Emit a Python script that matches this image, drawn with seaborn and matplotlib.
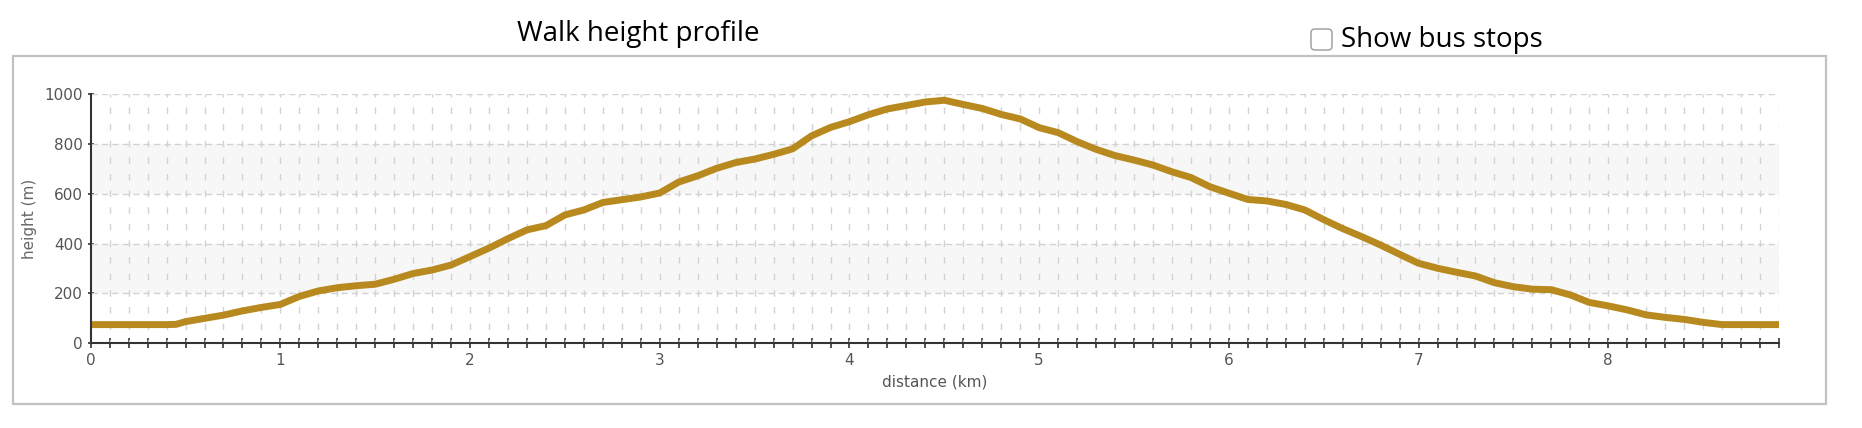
import seaborn as sns
import matplotlib.pyplot as plt
import pandas as pd
import numpy as np
from matplotlib.patches import Rectangle, FancyBboxPatch
from matplotlib.transforms import IdentityTransform

distance_km = [0.0, 0.1, 0.2, 0.3, 0.4, 0.45, 0.5, 0.6, 0.7, 0.8, 0.9,
               1.0, 1.1, 1.2, 1.3, 1.4, 1.5, 1.6, 1.7, 1.8, 1.9,
               2.0, 2.1, 2.2, 2.3, 2.4, 2.5, 2.6, 2.7, 2.8, 2.9,
               3.0, 3.1, 3.2, 3.3, 3.4, 3.5, 3.6, 3.7, 3.8, 3.9,
               4.0, 4.1, 4.2, 4.3, 4.4, 4.5, 4.6, 4.7, 4.8, 4.9,
               5.0, 5.1, 5.2, 5.3, 5.4, 5.5, 5.6, 5.7, 5.8, 5.9,
               6.0, 6.1, 6.2, 6.3, 6.4, 6.5, 6.6, 6.7, 6.8, 6.9,
               7.0, 7.1, 7.2, 7.3, 7.4, 7.5, 7.6, 7.7, 7.8, 7.9,
               8.0, 8.1, 8.2, 8.3, 8.4, 8.5, 8.6, 8.7, 8.8, 8.9]
height_m = [75, 75, 75, 75, 75, 76, 87, 100, 113, 130, 144,
            156, 188, 210, 223, 231, 237, 257, 280, 294, 314,
            348, 382, 420, 455, 472, 515, 535, 565, 576, 587,
            603, 647, 672, 702, 725, 739, 758, 780, 832, 866,
            889, 917, 940, 954, 968, 975, 958, 942, 918, 900,
            865, 845, 809, 778, 753, 735, 715, 688, 665, 628,
            602, 577, 571, 557, 535, 496, 460, 428, 394, 357,
            321, 301, 285, 270, 243, 227, 217, 215, 194, 164,
            150, 134, 114, 104, 96, 84, 75, 75, 75, 75]
x_labels = [0, 1, 2, 3, 4, 5, 6, 7, 8]
y_labels = [0, 200, 400, 600, 800, 1000]
bands = [(200, 400), (600, 800)]

profile = pd.DataFrame({"distance": distance_km, "height": height_m})

sns.set_theme(style="white")
plt.rcParams["font.family"] = ["DejaVu Sans"]

W, H = 1862, 428
fig = plt.figure(figsize=(W / 100, H / 100), dpi=100)
left, right, bottom, top = 90.7, 1779, 343.3, 94
ax = fig.add_axes([left / W, (H - bottom) / H, (right - left) / W, (bottom - top) / H])

xmax = distance_km[-1]
for lo, hi in bands:
    ax.axhspan(lo, hi, color="#f7f7f7", zorder=0, lw=0)

# dashed grid: every 0.1 km vertically, every 200 m horizontally
minor_x = np.round(np.arange(0, xmax + 0.01, 0.1), 2)
ax.vlines(minor_x[1:], 0, 1000, colors="#d2d2d2", linewidth=1.0,
          linestyles=[(2.35, (4.7, 7.27))], zorder=1)
ax.hlines(y_labels[1:], 0, xmax, colors="#d2d2d2", linewidth=1.0,
          linestyles=[(0, (4.5, 3.0))], zorder=1)

sns.lineplot(data=profile, x="distance", y="height", color="#b8891e",
             linewidth=5.0, ax=ax, zorder=3)
ax.lines[-1].set_solid_capstyle("butt")

ax.set_xlim(0, xmax)
ax.set_ylim(0, 1000)
ax.set_xticks(x_labels)
ax.set_xticks(minor_x, minor=True)
ax.set_yticks(y_labels)
ax.tick_params(axis="both", which="both", direction="inout", color="#222222",
               width=1.1, labelsize=11, labelcolor="#555555",
               bottom=True, left=True)
ax.tick_params(axis="x", which="both", length=6.5, pad=4)
ax.tick_params(axis="y", length=5, pad=3)

for s in ["top", "right"]:
    ax.spines[s].set_visible(False)
for s in ["left", "bottom"]:
    ax.spines[s].set_color("#333333")
    ax.spines[s].set_linewidth(1.5)
    ax.spines[s].set_zorder(4)

ax.set_xlabel("distance (km)", fontsize=11, color="#555555")
ax.set_ylabel("height (m)", fontsize=11, color="#666666")
ax.xaxis.label.set_va("center")
ax.yaxis.label.set_va("center")
ax.xaxis.set_label_coords(0.5, (bottom - 382) / (bottom - top))
ax.yaxis.set_label_coords((29.5 - left) / (right - left), 0.5)

fig.text(638 / W, 1 - 40.7 / H, "Walk height profile", family=["Open Sans", "DejaVu Sans"],
         fontsize=20, ha="center", va="baseline", color="black")
fig.text(1341 / W, 1 - 46.7 / H, "Show bus stops", family=["Open Sans", "DejaVu Sans"],
         fontsize=20, ha="left", va="baseline", color="black")

fig.patches.append(FancyBboxPatch((1311, H - 50), 21, 21,
                                  boxstyle="round,pad=0,rounding_size=4",
                                  transform=IdentityTransform(), facecolor="white",
                                  edgecolor="#9a9a9a", linewidth=1.0, figure=fig))
fig.patches.append(Rectangle((13, H - 404), 1813, 348.3, transform=IdentityTransform(),
                             facecolor="none", edgecolor="#c2c2c2", linewidth=1.6, figure=fig))

fig.savefig("out.png", dpi=100)
